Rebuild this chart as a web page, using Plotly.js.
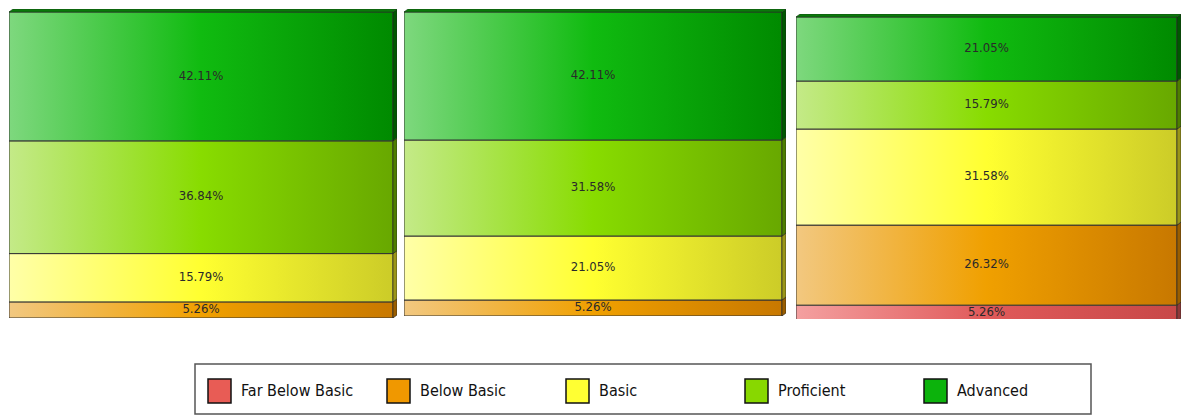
<!DOCTYPE html>
<html>
<head>
<meta charset="utf-8">
<script src="https://cdn.plot.ly/plotly-3.0.1.min.js"></script>
<style>html,body{margin:0;padding:0;background:#fff;}#chart{width:1183px;height:417px;}</style>
</head>
<body>
<div id="chart"></div>
<script>
// ---- data ----
const categories = ['Far Below Basic', 'Below Basic', 'Basic', 'Proficient', 'Advanced'];
const farBelowBasic = [0, 0, 5.26];
const belowBasic = [5.26, 5.26, 26.32];
const basic = [15.79, 21.05, 31.58];
const proficient = [36.84, 31.58, 15.79];
const advanced = [42.11, 42.11, 21.05];
const seriesValues = [farBelowBasic, belowBasic, basic, proficient, advanced];

// ---- styles ----
const gradients = [
  ['#f4a0a0', '#e05a5a', '#c84848'],
  ['#f2c880', '#f0a000', '#c87800'],
  ['#ffffa8', '#ffff30', '#cccc28'],
  ['#c4ea88', '#88dc00', '#68a800'],
  ['#7ed87e', '#10bb10', '#008a00']
];
const sideColors = ['#903838', '#9a5e00', '#9a9618', '#4e7e00', '#005800'];
const topColors = ['#b04040', '#b87000', '#c0bc20', '#6aa000', '#0a7a0a'];
const swatchColors = ['#e85c55', '#f09800', '#ffff33', '#88d800', '#0cb30c'];
const fontFamily = 'Liberation Sans Narrow, DejaVu Sans Condensed, sans-serif';

const W = 1183, H = 417;
// panel pixel boxes: [left, rightIncludingDepth, top, bottom], y-range start
const panelBoxes = [
  {x0: 9, x1: 397, y0: 9, y1: 318, ymin: 0},
  {x0: 404, x1: 786, y0: 9, y1: 316, ymin: 0},
  {x0: 796, x1: 1181, y0: 14, y1: 319, ymin: 0.7}
];
const depthPx = 4;

const traces = [];
const layout = {
  width: W, height: H,
  margin: {l: 0, r: 0, t: 0, b: 0},
  paper_bgcolor: '#ffffff', plot_bgcolor: 'rgba(0,0,0,0)',
  showlegend: false,
  shapes: [], annotations: []
};

panelBoxes.forEach((pb, p) => {
  const ax = p === 0 ? '' : String(p + 1);
  const faceW = pb.x1 - pb.x0 - depthPx;
  const dx = depthPx / faceW;
  const pxPerUnit = (pb.y1 - pb.y0) / (101 - pb.ymin);
  const dy = 3 / pxPerUnit;
  layout['xaxis' + ax] = {domain: [pb.x0 / W, pb.x1 / W], range: [0, 1 + dx], visible: false, fixedrange: true};
  layout['yaxis' + ax] = {domain: [1 - pb.y1 / H, 1 - pb.y0 / H], range: [pb.ymin, 100 + dy], visible: false, fixedrange: true};
  let base = 0;
  const xa = 'x' + ax, ya = 'y' + ax;
  const labelX = [], labelY = [], labelT = [];
  let topIdx = -1;
  categories.forEach((c, k) => {
    const v = seriesValues[k][p];
    if (!(v > 0)) return;
    const b = base, t = base + v;
    // front face with horizontal gradient
    traces.push({
      type: 'scatter', mode: 'lines', xaxis: xa, yaxis: ya,
      x: [0, 1, 1, 0, 0], y: [b, b, t, t, b],
      fill: 'toself',
      fillgradient: {type: 'horizontal', start: 0, stop: 1,
        colorscale: [[0, gradients[k][0]], [0.5, gradients[k][1]], [1, gradients[k][2]]]},
      line: {color: '#333333', width: 1},
      hoverinfo: 'skip', name: c
    });
    // right side face
    traces.push({
      type: 'scatter', mode: 'lines', xaxis: xa, yaxis: ya,
      x: [1, 1 + dx, 1 + dx, 1, 1], y: [b, b + dy, t + dy, t, b],
      fill: 'toself', fillcolor: sideColors[k],
      line: {color: '#222222', width: 0.6},
      hoverinfo: 'skip'
    });
    labelX.push(0.5); labelY.push((b + t) / 2); labelT.push(v.toFixed(2) + '%');
    base = t; topIdx = k;
  });
  // top face
  traces.push({
    type: 'scatter', mode: 'lines', xaxis: xa, yaxis: ya,
    x: [0, dx, 1 + dx, 1, 0], y: [base, base + dy, base + dy, base, base],
    fill: 'toself', fillcolor: topColors[topIdx],
    line: {color: '#1a3a1a', width: 0.6},
    hoverinfo: 'skip'
  });
  traces.push({
    type: 'scatter', mode: 'text', xaxis: xa, yaxis: ya,
    x: labelX, y: labelY, text: labelT,
    textposition: 'middle center',
    textfont: {family: fontFamily, size: 13, color: '#2a2a2a'},
    hoverinfo: 'skip', cliponaxis: true
  });
});

// ---- legend (box, swatches, labels) ----
layout.shapes.push({type: 'rect', xref: 'paper', yref: 'paper',
  x0: 195 / W, x1: 1091 / W, y0: 1 - 414 / H, y1: 1 - 364 / H,
  line: {color: '#555555', width: 1.5}, fillcolor: 'rgba(0,0,0,0)'});
categories.forEach((c, k) => {
  const sx = 208 + k * 179;
  layout.shapes.push({type: 'rect', xref: 'paper', yref: 'paper',
    x0: sx / W, x1: (sx + 23) / W, y0: 1 - 403 / H, y1: 1 - 379 / H,
    line: {color: '#111111', width: 1.5}, fillcolor: swatchColors[k]});
  layout.annotations.push({xref: 'paper', yref: 'paper',
    x: (sx + 31) / W, y: 1 - 390 / H, xanchor: 'left', yanchor: 'middle',
    text: c, showarrow: false,
    font: {family: fontFamily, size: 16, color: '#111111'}});
});

Plotly.newPlot('chart', traces, layout, {displayModeBar: false, staticPlot: true});
</script>
</body>
</html>
